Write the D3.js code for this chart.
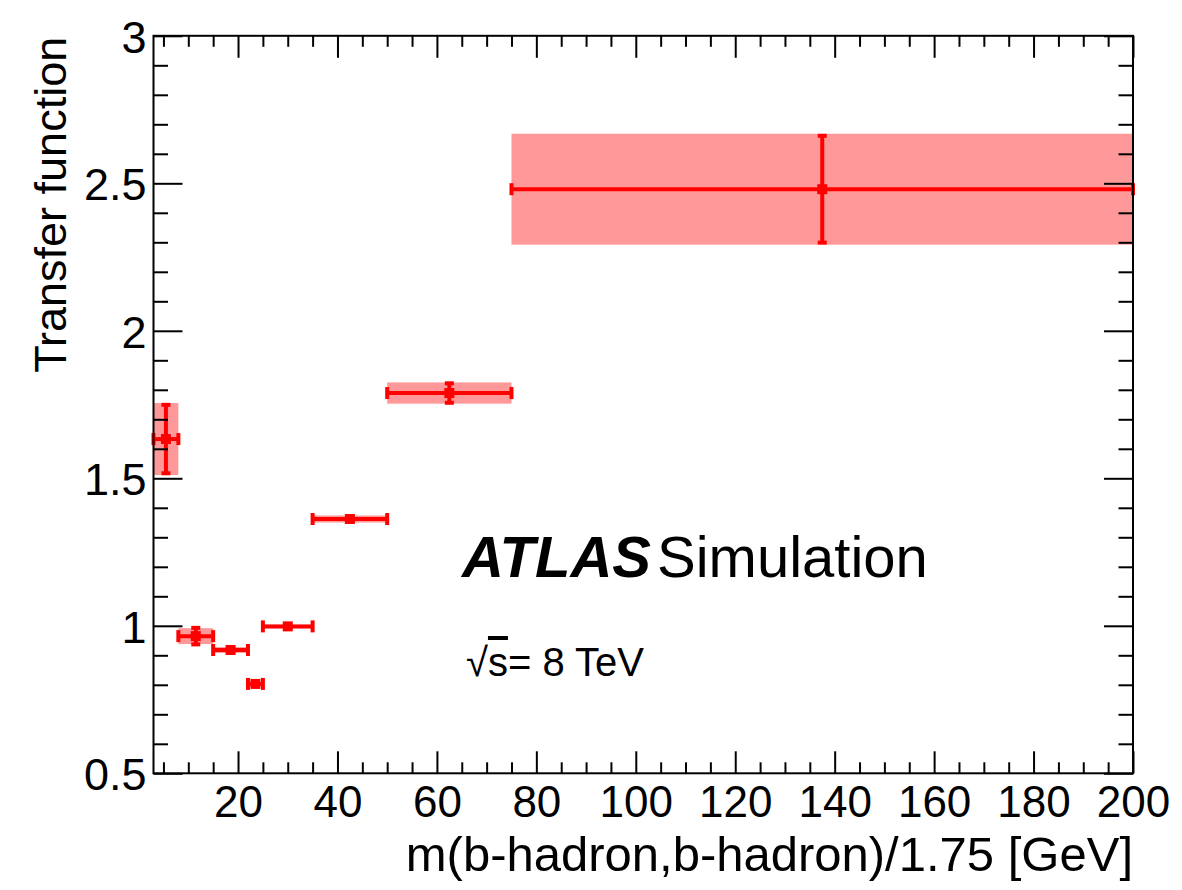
<!DOCTYPE html>
<html>
<head>
<meta charset="utf-8">
<script src="https://cdn.jsdelivr.net/npm/d3@7"></script>
<style>
  html, body { margin: 0; padding: 0; background: #fff; }
  svg { display: block; font-family: "Liberation Sans", Arial, Helvetica, sans-serif; }
</style>
</head>
<body>
<svg id="chart" width="1182" height="890"></svg>
<script>
// ---- data ----
const binLow  = [3, 8, 15, 22, 25, 35, 50, 75];
const binHigh = [8, 15, 22, 25, 35, 50, 75, 200];
const transfer = [1.633, 0.965, 0.918, 0.803, 0.998, 1.362, 1.789, 2.480];
const statErr  = [0.116, 0.028, 0.010, 0.005, 0.006, 0.008, 0.033, 0.181];
const systErr  = [0.122, 0.027, 0.010, 0.005, 0.006, 0.012, 0.036, 0.188];
const xMajorTicks = [20, 40, 60, 80, 100, 120, 140, 160, 180, 200];
const yMajorTicks = [0.5, 1, 1.5, 2, 2.5, 3];
const yTickLabels = ["0.5", "1", "1.5", "2", "2.5", "3"];
const xTitle = "m(b-hadron,b-hadron)/1.75 [GeV]";
const yTitle = "Transfer function";

// ---- layout ----
const PL = 153.5, PR = 1133, PT = 35.8, PB = 773.3;
const svg = d3.select("#chart");
const x = d3.scaleLinear().domain([3, 200]).range([PL, PR]);
const y = d3.scaleLinear().domain([0.5, 3]).range([PB, PT]);

const data = binLow.map((lo, i) => ({
  lo, hi: binHigh[i], c: (lo + binHigh[i]) / 2,
  v: transfer[i], e: statErr[i], s: systErr[i]
}));

const red = "#ff0000", bandColor = "#ff9999";

// bands
svg.append("g").selectAll("rect").data(data).join("rect")
  .attr("x", d => x(d.lo)).attr("width", d => x(d.hi) - x(d.lo))
  .attr("y", d => y(d.v + d.s)).attr("height", d => y(d.v - d.s) - y(d.v + d.s))
  .attr("fill", bandColor);

// error bars
const eg = svg.append("g").attr("stroke", red).attr("fill", red);
data.forEach(d => {
  const g = eg.append("g");
  g.append("line").attr("x1", x(d.lo)).attr("x2", x(d.hi))
    .attr("y1", y(d.v)).attr("y2", y(d.v)).attr("stroke-width", 4);
  [d.lo, d.hi].forEach(xx => {
    g.append("rect").attr("x", x(xx) - 2).attr("width", 4)
      .attr("y", y(d.v) - 6).attr("height", 12).attr("stroke", "none");
  });
  g.append("line").attr("x1", x(d.c)).attr("x2", x(d.c))
    .attr("y1", y(d.v + d.e)).attr("y2", y(d.v - d.e)).attr("stroke-width", 4);
  [d.v + d.e, d.v - d.e].forEach(yy => {
    g.append("rect").attr("x", x(d.c) - 4.5).attr("width", 9)
      .attr("y", y(yy) - 2).attr("height", 4).attr("stroke", "none");
  });
  g.append("rect").attr("x", x(d.c) - 5).attr("y", y(d.v) - 5)
    .attr("width", 10).attr("height", 10).attr("stroke", "none");
});

// ---- axes ----
const xMinor = d3.range(5, 200, 5).filter(v => !xMajorTicks.includes(v));
const yMinor = d3.range(6, 30).map(v => v / 10).filter(v => !yMajorTicks.some(m => Math.abs(m - v) < 1e-9));
const xMajLen = 22, xMinLen = 11, yMajLen = 29, yMinLen = 14.5;

function styleAxis(g) {
  g.select(".domain").remove();
  g.selectAll("line").attr("stroke", "#000").attr("stroke-width", 2);
}

const gb = svg.append("g").attr("transform", `translate(0,${PB})`)
  .call(d3.axisBottom(x).tickValues(xMajorTicks).tickSize(-xMajLen).tickPadding(12).tickFormat(d3.format("d")));
styleAxis(gb);
gb.selectAll("text").attr("font-size", 44).attr("fill", "#000").attr("font-family", "Liberation Sans, Arial, sans-serif");

styleAxis(svg.append("g").attr("transform", `translate(0,${PB})`)
  .call(d3.axisBottom(x).tickValues(xMinor).tickSize(-xMinLen).tickFormat("")));
styleAxis(svg.append("g").attr("transform", `translate(0,${PT})`)
  .call(d3.axisTop(x).tickValues(xMajorTicks).tickSize(-xMajLen).tickFormat("")));
styleAxis(svg.append("g").attr("transform", `translate(0,${PT})`)
  .call(d3.axisTop(x).tickValues(xMinor).tickSize(-xMinLen).tickFormat("")));

const gl = svg.append("g").attr("transform", `translate(${PL},0)`)
  .call(d3.axisLeft(y).tickValues(yMajorTicks).tickSize(-yMajLen).tickPadding(8)
    .tickFormat((d, i) => yTickLabels[i]));
styleAxis(gl);
gl.selectAll("text").attr("font-size", 45).attr("fill", "#000").attr("x", -7).attr("dy", "0.36em")
  .attr("font-family", "Liberation Sans, Arial, sans-serif");
styleAxis(svg.append("g").attr("transform", `translate(${PL},0)`)
  .call(d3.axisLeft(y).tickValues(yMinor).tickSize(-yMinLen).tickFormat("")));
styleAxis(svg.append("g").attr("transform", `translate(${PR},0)`)
  .call(d3.axisRight(y).tickValues(yMajorTicks).tickSize(-yMajLen).tickFormat("")));
styleAxis(svg.append("g").attr("transform", `translate(${PR},0)`)
  .call(d3.axisRight(y).tickValues(yMinor).tickSize(-yMinLen).tickFormat("")));

// frame
svg.append("rect").attr("x", PL).attr("y", PT).attr("width", PR - PL).attr("height", PB - PT)
  .attr("fill", "none").attr("stroke", "#000").attr("stroke-width", 2);

// titles
svg.append("text").attr("x", PR).attr("y", 871).attr("text-anchor", "end")
  .attr("font-size", 49).attr("fill", "#000").text(xTitle);
svg.append("text").attr("transform", `translate(66,${PT + 1}) rotate(-90)`)
  .attr("text-anchor", "end").attr("font-size", 45).attr("fill", "#000").text(yTitle);

// ATLAS label
const atl = svg.append("text").attr("x", 462).attr("y", 577).attr("font-size", 58).attr("fill", "#000");
atl.append("tspan").attr("font-weight", "bold").attr("font-style", "italic").text("ATLAS");
atl.append("tspan").attr("dx", 6).text("Simulation");

const en = svg.append("text").attr("x", 466).attr("y", 676).attr("font-size", 40).attr("fill", "#000");
en.append("tspan").text("√");
en.append("tspan").attr("text-decoration", "overline").text("s");
en.append("tspan").text("= 8 TeV");
</script>
</body>
</html>
